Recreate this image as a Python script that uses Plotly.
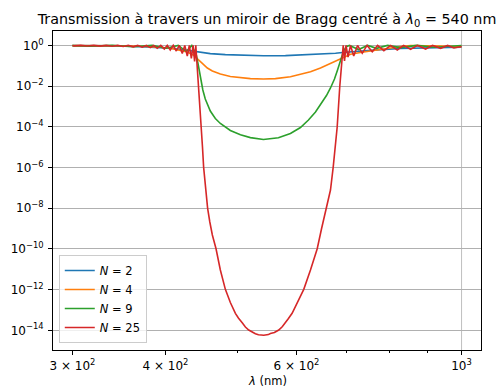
import plotly.graph_objects as go

# ---- data (wavelength in nm, transmission T) ----
lam_N2 = [300.0, 326.9, 347.7, 370.0, 381.7, 393.6, 406.0, 418.8, 432.0, 441.5, 459.6, 481.5,
          504.5, 541.7, 579.9, 613.2, 646.3, 677.1, 691.9, 709.3, 747.6, 778.4, 828.1, 881.0,
          937.3, 1000.0]
T_N2 = [0.989, 0.978, 0.945, 0.863, 0.825, 0.797, 0.729, 0.651, 0.543, 0.463, 0.395, 0.353,
        0.326, 0.308, 0.315, 0.3375, 0.369, 0.414, 0.448, 0.485, 0.562, 0.622, 0.704, 0.762,
        0.797, 0.825]

lam_N4 = [300.0, 321.8, 347.7, 370.0, 381.7, 393.6, 406.0, 418.8, 428.0, 436.0, 441.5, 445.6,
          451.2, 455.4, 462.5, 474.1, 489.0, 504.5, 520.3, 541.7, 562.2, 588.9, 607.5, 626.6,
          646.3, 666.6, 677.1, 687.6, 698.4, 709.3, 731.4, 754.6, 778.4, 802.9, 828.1, 854.2,
          881.0, 937.3, 1000.0]
T_N4 = [0.978, 0.994, 0.967, 0.913, 0.873, 0.816, 0.729, 0.594, 0.474, 0.3375, 0.227, 0.1617,
        0.1089, 0.0775, 0.0552, 0.0393, 0.0296, 0.0256, 0.0234, 0.0223, 0.0234, 0.0290, 0.0372,
        0.0510, 0.0775, 0.1319, 0.1712, 0.2323, 0.301, 0.365, 0.448, 0.531, 0.665, 0.789,
        0.883, 0.989, 0.989, 0.934, 0.853]

lam_N9 = [300.0, 316.9, 339.3, 362.1, 384.0, 401.0, 416.2, 426.7, 434.0, 437.4, 440.1, 442.8,
          445.6, 449.1, 452.5, 459.6, 466.8, 474.1, 489.0, 504.5, 520.3, 541.7, 567.4, 588.9,
          607.5, 622.7, 636.4, 648.3, 658.4, 666.6, 674.9, 681.3, 687.6, 694.1, 700.5, 707.1,
          727.1, 747.6, 768.8, 795.5, 828.1, 870.2, 920.0, 981.9, 1000.0]
T_N9 = [0.978, 0.913, 1.0, 0.853, 1.0, 0.729, 1.0, 0.501, 1.0, 0.594, 0.3375, 0.1089,
        0.0250, 6.43e-3, 2.32e-3, 5.97e-4, 2.56e-4, 1.453e-4, 6.58e-5, 4.05e-5, 2.94e-5,
        2.38e-5, 2.88e-5, 4.69e-5, 9.24e-5, 2.16e-4, 5.33e-4, 1.40e-3, 3.45e-3, 8.07e-3,
        0.0223, 0.0618, 0.1917, 0.531, 0.883, 1.0,
        0.629, 1.0, 0.720, 1.0, 0.780, 1.0, 0.816, 1.0, 0.989]

lam_N25 = [300.0, 301.6, 307.7, 314.0, 320.4, 326.9, 333.0, 339.3, 345.1, 351.0, 356.5, 362.1,
           367.1, 372.3, 377.0, 381.7, 385.8, 390.0, 394.3, 398.6, 402.3, 406.0, 409.8, 413.7,
           417.5, 421.4, 424.7, 428.0, 430.7, 433.4, 435.7, 437.8, 439.4, 441.1, 442.2, 443.3,
           445.1, 447.0, 448.6, 450.2, 453.5, 455.8, 458.9, 462.5, 467.8, 474.1, 481.5, 489.0,
           496.7, 501.3, 507.6, 512.3, 517.6, 523.5, 528.4, 533.4, 542.2, 550.1, 553.5, 560.4,
           568.0, 574.5, 579.9, 585.3, 592.0, 601.9, 613.7, 626.6,
           639.8, 648.3, 657.8, 666.6, 672.2, 676.4, 680.6, 686.1, 688.6, 690.1, 693.4, 696.2,
           699.5, 703.8, 709.3, 716.3, 724.8, 735.5, 746.5, 758.6, 771.2, 786.4, 802.9, 819.7,
           835.9, 854.2, 872.9, 894.8, 914.3, 937.3, 957.9, 976.7, 1000.0]
T_N25 = [1.0, 0.945, 1.0, 0.934, 1.0, 0.924, 1.0, 0.903, 1.0, 0.883, 1.0, 0.853,
         1.0, 0.816, 1.0, 0.780, 1.0, 0.720, 1.0, 0.665, 1.0, 0.594, 1.0, 0.531,
         1.0, 0.400, 1.0, 0.301, 1.0, 0.232, 1.0, 0.162, 1.0, 0.1365, 0.0351, 0.00977,
         9.40e-4, 9.78e-5, 1.016e-5, 1.02e-6, 7.84e-8, 9.89e-9, 2.10e-9, 4.82e-10, 1.02e-10,
         9.18e-12, 1.03e-12, 2.32e-13,
         6.84e-14, 4.02e-14, 2.29e-14, 1.45e-14, 1.035e-14, 7.80e-15, 6.81e-15, 6.01e-15,
         5.68e-15, 6.15e-15, 6.97e-15, 7.80e-15,
         1.035e-14, 1.54e-14, 2.29e-14, 3.80e-14, 6.84e-14, 2.32e-13, 1.03e-12, 9.18e-12,
         1.02e-10, 9.50e-10, 9.89e-9, 7.84e-8, 1.02e-6, 1.016e-5, 9.78e-5, 0.00977, 0.0618,
         0.1917, 1.0, 0.171, 1.0, 0.269, 1.0, 0.301, 1.0, 0.409, 1.0, 0.490, 1.0, 0.549, 1.0,
         0.594, 1.0, 0.643, 1.0, 0.665, 1.0, 0.720, 1.0, 0.745, 0.883]

series = [
    ("<i>N</i> = 2", lam_N2, T_N2, "#1f77b4"),
    ("<i>N</i> = 4", lam_N4, T_N4, "#ff7f0e"),
    ("<i>N</i> = 9", lam_N9, T_N9, "#2ca02c"),
    ("<i>N</i> = 25", lam_N25, T_N25, "#d62728"),
]

y_exponents = [0, -2, -4, -6, -8, -10, -12, -14]
y_tickvals = [10.0 ** e for e in y_exponents]
y_ticktext = ["10<sup>%s</sup>" % (str(e).replace("-", "\u2212")) for e in y_exponents]

x_tickvals = [300, 400, 600, 1000]
x_ticktext = ["3 \u00d7 10<sup>2</sup>", "4 \u00d7 10<sup>2</sup>", "6 \u00d7 10<sup>2</sup>", "10<sup>3</sup>"]
x_minor = [500, 700, 800, 900]

FONT = "DejaVu Sans"
PLOT_H = 388 - 31 - 38

fig = go.Figure()
for name, lam, T, color in series:
    fig.add_trace(go.Scatter(x=lam, y=T, mode="lines", name=name,
                             line=dict(color=color, width=1.6)))

fig.update_layout(
    width=498, height=388,
    margin=dict(l=52.5, r=17, t=31, b=38, autoexpand=False),
    paper_bgcolor="white", plot_bgcolor="white",
    font=dict(family=FONT, size=12, color="black"),
    title=dict(text="Transmission à travers un miroir de Bragg centré à <i>λ</i><sub>0</sub> = 540 nm",
               x=0.5, xref="paper", xanchor="center", y=1 - 18.5 / 388, yanchor="middle",
               font=dict(family=FONT, size=14.3, color="black")),
    showlegend=True,
    legend=dict(x=0.0135, y=0.022, xanchor="left", yanchor="bottom",
                bgcolor="rgba(255,255,255,0.8)", bordercolor="#cccccc", borderwidth=1,
                font=dict(family=FONT, size=11.5, color="black"),
                itemwidth=30, tracegroupgap=0),
)

fig.update_xaxes(
    type="log", range=[2.45097, 3.02615], automargin=False,
    tickmode="array", tickvals=x_tickvals, ticktext=x_ticktext,
    ticks="outside", ticklen=4, tickwidth=0.9, tickcolor="black", ticklabelstandoff=1,
    showgrid=False, zeroline=False,
    showline=True, linecolor="black", linewidth=0.9, mirror=True,
    tickfont=dict(family=FONT, size=12, color="black"),
    minor=dict(tickmode="array", tickvals=x_minor, ticks="outside", ticklen=2.3,
               tickwidth=0.7, tickcolor="black", showgrid=False),
)
fig.update_yaxes(
    type="log", range=[-14.968, 0.708], automargin=False,
    tickmode="array", tickvals=y_tickvals, ticktext=y_ticktext,
    ticks="outside", ticklen=4, tickwidth=0.9, tickcolor="black", ticklabelstandoff=2,
    showgrid=True, gridcolor="#b0b0b0", gridwidth=0.8, zeroline=False,
    showline=True, linecolor="black", linewidth=0.9, mirror=True,
    tickfont=dict(family=FONT, size=12, color="black"),
)

# x-axis title placed as in the reference
fig.add_annotation(text="<i>λ</i> (nm)", xref="paper", yref="paper", x=0.5,
                   y=-(380.5 - 350) / PLOT_H, xanchor="center", yanchor="middle",
                   showarrow=False, borderpad=0,
                   font=dict(family=FONT, size=11.5, color="black"))

# vertical grid line at the major decade tick (10^3)
fig.add_shape(type="line", xref="x", yref="paper", x0=1000, x1=1000, y0=0, y1=1,
              line=dict(color="#b0b0b0", width=0.8), layer="below")

fig.write_html("out.html")
